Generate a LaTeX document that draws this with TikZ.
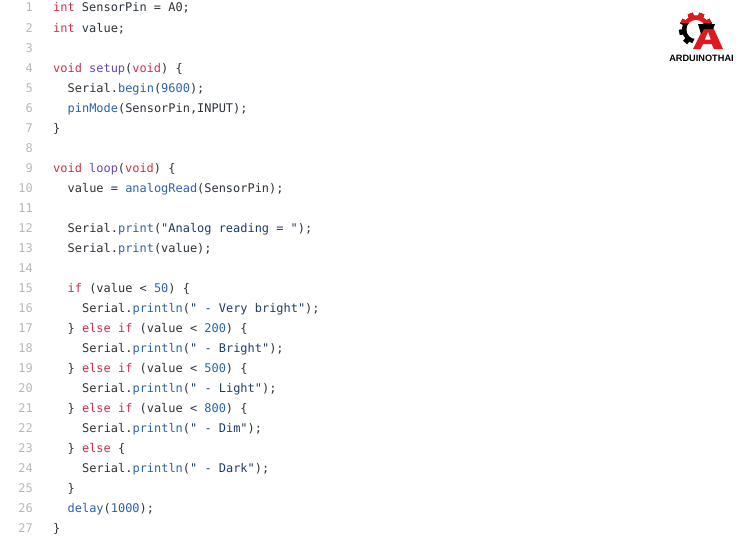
\documentclass[tikz,border=0pt]{standalone}
\usepackage{fontspec}
\setmainfont{Liberation Sans}
\setmonofont{DejaVu Sans Mono}
\usepackage{xcolor}
\usetikzlibrary{positioning}
\definecolor{kw}{HTML}{C8324E}
\definecolor{fn}{HTML}{2A62A8}
\definecolor{ent}{HTML}{6A45B0}
\definecolor{str}{HTML}{1F3A68}
\definecolor{txt}{HTML}{2C3238}
\definecolor{gutter}{HTML}{B4B8BC}
\definecolor{logored}{HTML}{E0191F}
\newcommand{\kw}[1]{\textcolor{kw}{#1}}
\newcommand{\fn}[1]{\textcolor{fn}{#1}}
\newcommand{\ent}[1]{\textcolor{ent}{#1}}
\newcommand{\str}[1]{\textcolor{str}{#1}}
\begin{document}
\begin{tikzpicture}[x=1pt, y=-1pt,
    code/.style = {anchor=base west, inner sep=0pt, text=txt, font=\ttfamily\fontsize{11.95}{14}\selectfont},
    num/.style = {anchor=base east, inner sep=0pt, text=gutter, font=\ttfamily\fontsize{11.95}{14}\selectfont}]
    \useasboundingbox (0,0) rectangle (751,538);
    % line numbers
    \foreach \i in {1,...,27}
        \node[num] (n\i) at (33,{12+20*(\i-1)}) {\i};
    % code
    \node[code] (c1) at (53,12) {\kw{int} SensorPin = A0;};
    \node[code] (c2) at (53,32) {\kw{int} value;};
    \node[code] (c4) at (53,72) {\kw{void} \ent{setup}(\kw{void}) \{};
    \node[code] (c5) at (67.5,92) {Serial.\fn{begin}(\fn{9600});};
    \node[code] (c6) at (67.5,112) {\fn{pinMode}(SensorPin,INPUT);};
    \node[code] (c7) at (53,132) {\}};
    \node[code] (c9) at (53,172) {\kw{void} \ent{loop}(\kw{void}) \{};
    \node[code] (c10) at (67.5,192) {value = \fn{analogRead}(SensorPin);};
    \node[code] (c12) at (67.5,232) {Serial.\fn{print}(\str{"Analog reading = "});};
    \node[code] (c13) at (67.5,252) {Serial.\fn{print}(value);};
    \node[code] (c15) at (67.5,292) {\kw{if} (value < \fn{50}) \{};
    \node[code] (c16) at (82,312) {Serial.\fn{println}(\str{" - Very bright"});};
    \node[code] (c17) at (67.5,332) {\} \kw{else if} (value < \fn{200}) \{};
    \node[code] (c18) at (82,352) {Serial.\fn{println}(\str{" - Bright"});};
    \node[code] (c19) at (67.5,372) {\} \kw{else if} (value < \fn{500}) \{};
    \node[code] (c20) at (82,392) {Serial.\fn{println}(\str{" - Light"});};
    \node[code] (c21) at (67.5,412) {\} \kw{else if} (value < \fn{800}) \{};
    \node[code] (c22) at (82,432) {Serial.\fn{println}(\str{" - Dim"});};
    \node[code] (c23) at (67.5,452) {\} \kw{else} \{};
    \node[code] (c24) at (82,472) {Serial.\fn{println}(\str{" - Dark"});};
    \node[code] (c25) at (67.5,492) {\}};
    \node[code] (c26) at (67.5,512) {\fn{delay}(\fn{1000});};
    \node[code] (c27) at (53,532) {\}};
    % logo
    \foreach \a in {0,40,...,320}
        \fill[black, rotate around={\a+20:(696,29.5)}] (693.3,29.5) rectangle (698.7,12.5);
    \fill[black] (696,29.5) circle (14);
    \begin{scope}
        \clip (670,8) rectangle (720,22.5);
        \foreach \a in {0,40,...,320}
            \fill[logored, rotate around={\a+20:(696,29.5)}] (693.3,29.5) rectangle (698.7,12.5);
        \fill[logored] (696,29.5) circle (14);
    \end{scope}
    \fill[white] (696,29.5) circle (9.5);
    \fill[white] (702,24) -- (726,24) -- (726,52) -- (688,52) -- cycle;
    \fill[logored] (693,49) -- (704,27) -- (713,27) -- (723,49) -- (714,49) -- (711.5,44) -- (703,44) -- (700.5,49) -- cycle;
    \fill[white] (705,39.5) -- (708,32) -- (710.5,39.5) -- cycle;
    \fill[black] (698,24) -- (715,24) -- (713,29) -- (704,29) -- (701,34) -- cycle;
    \node[inner sep=0pt, font=\bfseries\fontsize{9.2}{10}\selectfont] (logotext) at (701.5,58) {ARDUINOTHAI};
\end{tikzpicture}
\end{document}
